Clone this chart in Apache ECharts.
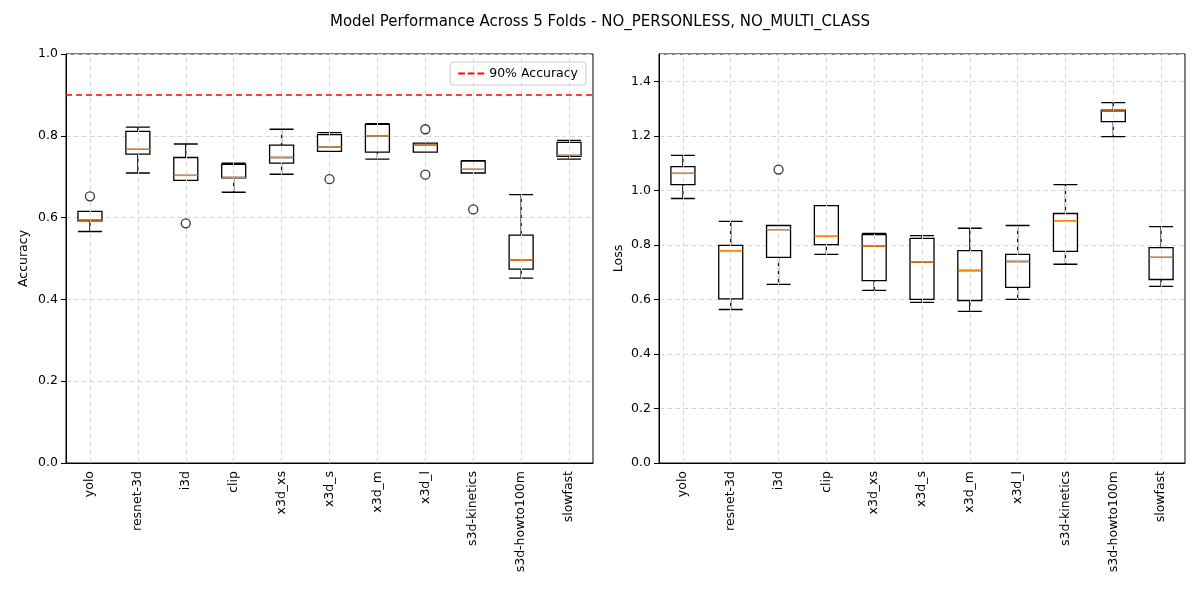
<!DOCTYPE html>
<html>
<head>
<meta charset="utf-8">
<script src="https://cdn.jsdelivr.net/npm/echarts@6/dist/echarts.min.js"></script>
<style>html,body{margin:0;padding:0;background:#fff}#main{width:1200px;height:600px}</style>
</head>
<body>
<div id="main"></div>
<script>
const models = ["yolo","resnet-3d","i3d","clip","x3d_xs","x3d_s","x3d_m","x3d_l","s3d-kinetics","s3d-howto100m","slowfast"];

// [lower whisker, q1, median, q3, upper whisker]
const accBoxes = [
    [0.566,0.592,0.594,0.615,0.615],
    [0.709,0.755,0.767,0.811,0.821],
    [0.691,0.691,0.703,0.747,0.780],
    [0.662,0.697,0.698,0.730,0.733],
    [0.706,0.733,0.747,0.777,0.816],
    [0.762,0.762,0.772,0.803,0.808],
    [0.743,0.760,0.800,0.828,0.830],
    [0.760,0.760,0.777,0.782,0.782],
    [0.709,0.709,0.718,0.738,0.739],
    [0.452,0.474,0.496,0.557,0.656],
    [0.743,0.750,0.752,0.784,0.789]
];
// [category index, value]
const accOutliers = [[0,0.652],[2,0.586],[5,0.694],[7,0.816],[7,0.705],[8,0.620]];

const lossBoxes = [
    [0.970,1.021,1.062,1.087,1.128],
    [0.563,0.602,0.779,0.798,0.886],
    [0.655,0.754,0.856,0.871,0.871],
    [0.765,0.801,0.831,0.944,0.944],
    [0.633,0.669,0.795,0.838,0.842],
    [0.589,0.600,0.737,0.824,0.834],
    [0.556,0.596,0.706,0.779,0.861],
    [0.600,0.644,0.739,0.765,0.871],
    [0.729,0.776,0.889,0.915,1.021],
    [1.197,1.252,1.291,1.294,1.322],
    [0.648,0.673,0.754,0.790,0.867]
];
const lossOutliers = [[2,1.076]];

const accThreshold = 0.9;

const chart = echarts.init(document.getElementById("main"));
const font = "DejaVu Sans";
const gridLine = {show:true, lineStyle:{color:"#d9d9d9", type:[5,3]}};

function xAxis(idx){
    return {
        type:"category", data:models, gridIndex:idx, boundaryGap:true,
        axisLine:{lineStyle:{color:"#000"}},
        axisTick:{alignWithLabel:true, lineStyle:{color:"#000"}},
        axisLabel:{rotate:90, color:"#000", fontFamily:font, fontSize:12.5, interval:0},
        splitLine:{show:false}
    };
}
function yAxis(idx, max, name){
    return {
        type:"value", gridIndex:idx, min:0, max:max, interval:0.2,
        name:name, nameLocation:"middle", nameGap:idx === 0 ? 36 : 34,
        nameTextStyle:{color:"#000", fontFamily:font, fontSize:12.5},
        axisLine:{show:true, lineStyle:{color:"#000"}},
        axisTick:{show:true, lineStyle:{color:"#000"}},
        axisLabel:{color:"#000", fontFamily:font, fontSize:12.5, showMaxLabel:idx === 0,
            formatter:v => v.toFixed(1)},
        splitLine:gridLine
    };
}
const boxStyle = {color:"#fff", borderColor:"#000", borderWidth:1.3};
const outlierStyle = {color:"#fff", borderColor:"#000", borderWidth:1.3};

// vertical grid lines at each category centre, like matplotlib
function vGrid(){
    return {silent:true, symbol:"none", label:{show:false}, lineStyle:gridLine.lineStyle,
        data:models.map(m => ({xAxis:m}))};
}

const series = [
    {type:"boxplot", xAxisIndex:0, yAxisIndex:0, data:accBoxes, boxWidth:[24,24], itemStyle:boxStyle, z:3,
        markLine:vGrid()},
    {type:"line", xAxisIndex:0, yAxisIndex:0, data:[], z:4,
        markLine:{silent:true, symbol:"none", label:{show:false},
            lineStyle:{color:"#ff0000", type:[6,4], width:1.6}, data:[{yAxis:accThreshold}]}},
    {type:"scatter", xAxisIndex:0, yAxisIndex:0, data:accOutliers, symbolSize:9, itemStyle:outlierStyle, z:5},
    {type:"boxplot", xAxisIndex:1, yAxisIndex:1, data:lossBoxes, boxWidth:[24,24], itemStyle:boxStyle, z:3,
        markLine:vGrid()},
    {type:"scatter", xAxisIndex:1, yAxisIndex:1, data:lossOutliers, symbolSize:9, itemStyle:outlierStyle, z:5},
    {type:"line", name:"90% Accuracy", xAxisIndex:0, yAxisIndex:0, data:[], symbol:"none",
        lineStyle:{color:"#ff0000", type:[6,4], width:1.6}, itemStyle:{color:"#ff0000"}}
];
// orange median lines
[0,1].forEach(g => series.push({
    type:"custom", xAxisIndex:g, yAxisIndex:g, z:10,
    data:(g === 0 ? accBoxes : lossBoxes).map((b,i) => [i, b[2]]),
    renderItem:(params, api) => {
        const p = api.coord([api.value(0), api.value(1)]);
        return {type:"line", shape:{x1:p[0]-12, y1:p[1], x2:p[0]+12, y2:p[1]},
            style:{stroke:"#ff7f0e", lineWidth:1.3}};
    }
}));

const option = {
    animation:false,
    title:{text:"Model Performance Across 5 Folds - NO_PERSONLESS, NO_MULTI_CLASS", left:"center", top:10,
        textStyle:{fontFamily:font, fontSize:15, fontWeight:"normal", color:"#000"}},
    legend:{data:[{name:"90% Accuracy", icon:"path://M0,0H7V2H0Z M10,0H17V2H10Z M20,0H27V2H20Z"}],
        right:614, top:62, borderColor:"#ccc", borderWidth:1, borderRadius:3, padding:[5,8],
        itemWidth:26, itemHeight:2, textStyle:{fontFamily:font, fontSize:12.5, color:"#000"}},
    grid:[
        {left:66, right:607, top:54, bottom:137, show:true, borderColor:"#000", borderWidth:1},
        {left:659, right:15, top:54, bottom:137, show:true, borderColor:"#000", borderWidth:1}
    ],
    xAxis:[xAxis(0), xAxis(1)],
    yAxis:[yAxis(0, 1.0, "Accuracy"), yAxis(1, 1.5, "Loss")],
    series:series
};
chart.setOption(option);
</script>
</body>
</html>
